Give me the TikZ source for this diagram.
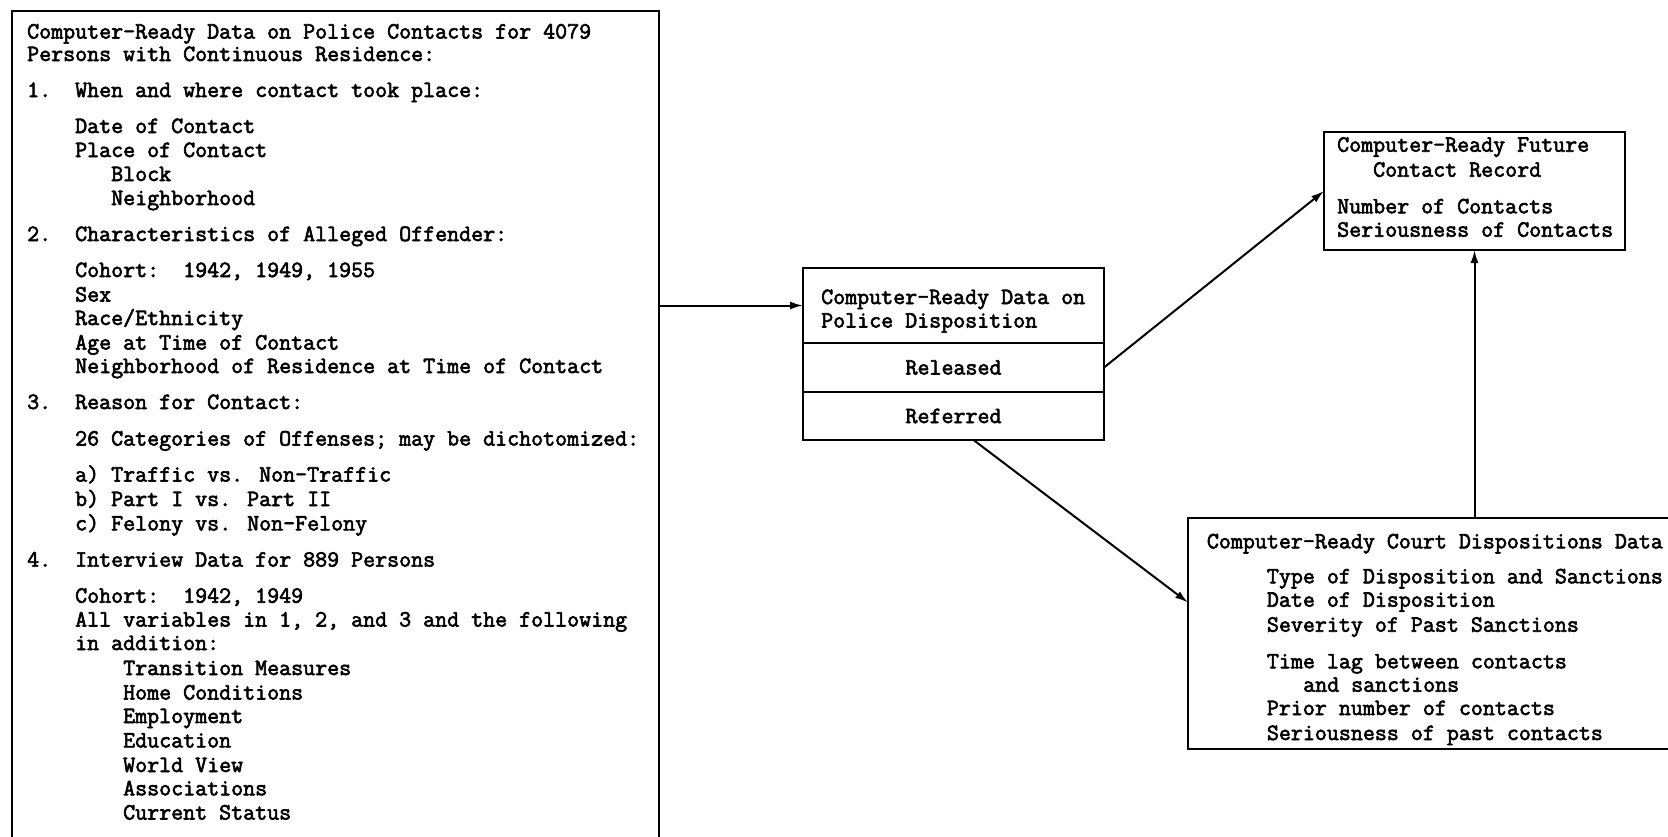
\documentclass[tikz,border=0pt]{standalone}
\usetikzlibrary{arrows.meta}
\newcounter{tl}
\newcommand\fakebold[1]{\special{pdf:literal direct 2 Tr 0.6 w}#1\special{pdf:literal direct 0 Tr}}
\tikzset{
  box/.style={draw, line width=1.8pt, rectangle, inner sep=0pt, outer sep=0pt, anchor=north west},
  tfont/.style={font=\ttfamily\fontsize{23.3}{24}\selectfont},
  txt/.style={tfont, anchor=base west, inner sep=0pt},
  conn/.style={line width=2pt, -{Latex[length=13pt,width=8pt]}},
}
\newcommand\tline[3]{\stepcounter{tl}\node[txt] (tl\arabic{tl}) at (#1,#2) {\fakebold{#3}};}
\begin{document}
\begin{tikzpicture}[x=1pt,y=-1pt]
\useasboundingbox (0,0) rectangle (1668,836);
\clip (0,0) rectangle (1668,836);
\fill[white] (0,0) rectangle (1668,836);

% boxes
\node[box, minimum width=647.3pt, minimum height=900pt] (lbox) at (11.7,10.7) {};
\node[box, minimum width=301pt, minimum height=75pt] (mtitle) at (803,268) {};
\node[box, minimum width=301pt, minimum height=49pt] (mrel) at (803,343) {};
\node[box, minimum width=301pt, minimum height=48pt] (mref) at (803,392) {};
\node[box, minimum width=301pt, minimum height=118pt] (fut) at (1324,132) {};
\node[box, minimum width=520pt, minimum height=231pt] (court) at (1188,518) {};

% connectors
\draw[conn] (lbox.east |- mtitle.west) -- (mtitle.west);
\draw[conn] (mrel.east) -- (fut.west);
\draw[conn] ([xshift=20pt]mref.south) -- ([yshift=31pt]court.west);
\draw[conn] (fut.south |- court.north) -- (fut.south);

% middle box cell labels
\node[tfont, inner sep=0pt] (lrel) at (mrel.center) {\fakebold{Released}};
\node[tfont, inner sep=0pt] (lref) at (mref.center) {\fakebold{Referred}};

% left box text
\tline{27}{38.5}{Computer-Ready Data on Police Contacts for 4079}
\tline{27}{61}{Persons with Continuous Residence:}
\tline{27}{97}{1.~~When and where contact took place:}
\tline{75}{133}{Date of Contact}
\tline{75}{157}{Place of Contact}
\tline{111}{181}{Block}
\tline{111}{205}{Neighborhood}
\tline{27}{241}{2.~~Characteristics of Alleged Offender:}
\tline{75}{277}{Cohort:~~1942, 1949, 1955}
\tline{75}{301.5}{Sex}
\tline{75}{325}{Race/Ethnicity}
\tline{75}{349.5}{Age at Time of Contact}
\tline{75}{373}{Neighborhood of Residence at Time of Contact}
\tline{27}{409}{3.~~Reason for Contact:}
\tline{75}{445.5}{26 Categories of Offenses; may be dichotomized:}
\tline{75}{481.5}{a) Traffic vs. Non-Traffic}
\tline{75}{506}{b) Part I vs. Part II}
\tline{75}{530.4}{c) Felony vs. Non-Felony}
\tline{27}{566.6}{4.~~Interview Data for 889 Persons}
\tline{75}{602.7}{Cohort:~~1942, 1949}
\tline{75}{626.5}{All variables in 1, 2, and 3 and the following}
\tline{75}{650}{in addition:}
\tline{123}{675}{Transition Measures}
\tline{123}{699.5}{Home Conditions}
\tline{123}{723}{Employment}
\tline{123}{747.4}{Education}
\tline{123}{772}{World View}
\tline{123}{795.3}{Associations}
\tline{123}{819.5}{Current Status}

% middle box title
\tline{821}{304}{Computer-Ready Data on}
\tline{821}{327.5}{Police Disposition}

% future box
\tline{1337}{151.7}{Computer-Ready Future}
\tline{1373}{176.7}{Contact Record}
\tline{1337}{213.3}{Number of Contacts}
\tline{1337}{236.7}{Seriousness of Contacts}

% court box
\tline{1206.7}{548.3}{Computer-Ready Court Dispositions Data}
\tline{1266.7}{583.3}{Type of Disposition and Sanctions}
\tline{1266.7}{606.7}{Date of Disposition}
\tline{1266.7}{631.7}{Severity of Past Sanctions}
\tline{1266.7}{668.3}{Time lag between contacts}
\tline{1303}{691.7}{and sanctions}
\tline{1266.7}{715}{Prior number of contacts}
\tline{1266.7}{740}{Seriousness of past contacts}
\end{tikzpicture}
\end{document}
